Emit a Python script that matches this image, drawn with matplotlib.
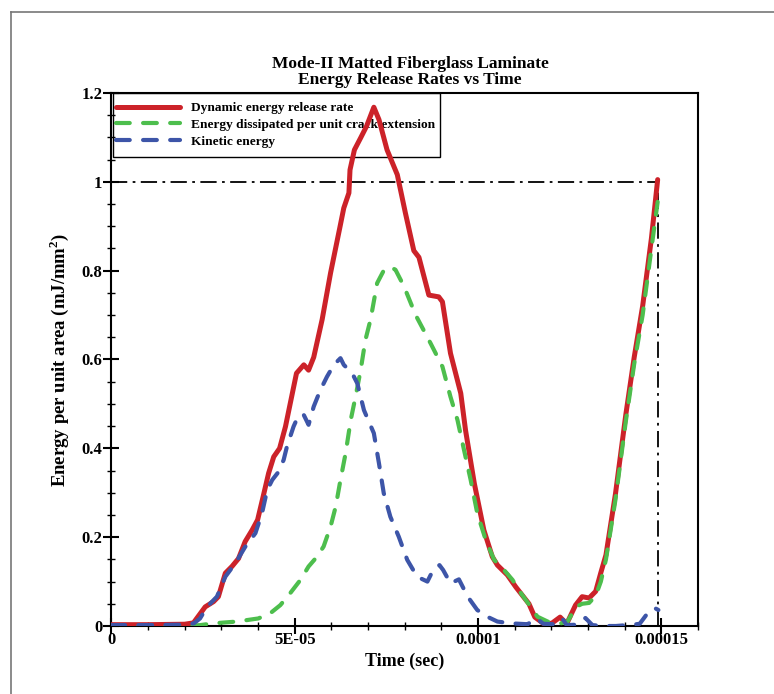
import numpy as np
import matplotlib
matplotlib.use("Agg")
import matplotlib.pyplot as plt
from matplotlib.lines import Line2D
from matplotlib.patches import Rectangle

plt.rcParams['font.family'] = ['Liberation Serif', 'DejaVu Serif']
plt.rcParams['font.weight'] = 'bold'
plt.rcParams['mathtext.fontset'] = 'custom'
plt.rcParams['mathtext.rm'] = 'Liberation Serif:bold'
plt.rcParams['mathtext.bf'] = 'Liberation Serif:bold'

title_lines = ["Mode-II Matted Fiberglass Laminate", "Energy Release Rates vs Time"]
x_label = "Time (sec)"
y_label = r"Energy per unit area (mJ/mm$^{2}$)"
series_names = ["Dynamic energy release rate",
                "Energy dissipated per unit crack extension",
                "Kinetic energy"]
x_ticks = [0, 5e-5, 1e-4, 1.5e-4]
x_tick_labels = ["0", "5E-05", "0.0001", "0.00015"]
y_ticks = [0, 0.2, 0.4, 0.6, 0.8, 1.0, 1.2]
y_tick_labels = ["0", "0.2", "0.4", "0.6", "0.8", "1", "1.2"]
crit_time = 1.49e-4
crit_energy = 1.0

# time in units of 1e-5 s
t_dyn = [0, 1.0, 2.0, 2.24, 2.56, 2.79, 2.92, 3.11, 3.29, 3.47, 3.65, 3.84, 3.99, 4.14,
         4.29, 4.43, 4.59, 4.75, 4.88, 5.05, 5.25, 5.38, 5.52, 5.75, 5.98, 6.24, 6.34,
         6.48, 6.51, 6.63, 6.80, 6.96, 7.16, 7.30, 7.52, 7.80, 8.02, 8.25, 8.39, 8.66,
         8.93, 9.03, 9.25, 9.53, 9.66, 9.90, 10.16, 10.39, 10.53, 10.80, 11.03, 11.39,
         11.55, 11.78, 12.01, 12.24, 12.42, 12.66, 12.84, 13.03, 13.21, 13.35, 13.49,
         13.75, 14.03, 14.26, 14.49, 14.73, 14.90]
e_dyn = [0.003, 0.003, 0.004, 0.007, 0.043, 0.055, 0.066, 0.119, 0.134, 0.152, 0.19, 0.216,
         0.239, 0.291, 0.344, 0.381, 0.40, 0.449, 0.501, 0.569, 0.588, 0.576, 0.605, 0.69,
         0.795, 0.90, 0.941, 0.975, 1.027, 1.072, 1.099, 1.125, 1.168, 1.14, 1.072, 1.016,
         0.93, 0.845, 0.83, 0.745, 0.741, 0.73, 0.614, 0.524, 0.441, 0.321, 0.216, 0.156,
         0.137, 0.115, 0.088, 0.05, 0.02, 0.006, 0.006, 0.02, 0.005, 0.047, 0.066, 0.063,
         0.078, 0.12, 0.16, 0.298, 0.475, 0.605, 0.72, 0.873, 1.005]

t_dis = [0, 1.0, 2.0, 2.42, 2.79, 3.42, 4.01, 4.34, 4.61, 4.88, 5.16, 5.38, 5.61, 5.79,
         5.98, 6.12, 6.25, 6.39, 6.53, 6.66, 6.80, 6.93, 7.07, 7.25, 7.44, 7.62, 7.75,
         7.98, 8.30, 8.71, 9.03, 9.25, 9.44, 9.62, 9.80, 9.98, 10.21, 10.44, 10.71, 10.94,
         11.17, 11.44, 11.62, 11.90, 12.26, 12.44, 12.67, 12.84, 13.03, 13.21, 13.35,
         13.49, 13.75, 14.03, 14.26, 14.49, 14.73, 14.90]
e_dis = [0.0, 0.0, 0.0, 0.002, 0.006, 0.01, 0.017, 0.029, 0.047, 0.074, 0.104, 0.134,
         0.156, 0.179, 0.224, 0.269, 0.329, 0.389, 0.464, 0.516, 0.576, 0.644, 0.69, 0.772,
         0.802, 0.808, 0.802, 0.765, 0.70, 0.636, 0.584, 0.516, 0.464, 0.396, 0.329, 0.254,
         0.194, 0.149, 0.126, 0.104, 0.074, 0.043, 0.021, 0.01, 0.006, 0.01, 0.043, 0.05,
         0.052, 0.068, 0.10, 0.15, 0.285, 0.46, 0.59, 0.70, 0.85, 0.955]

t_kin = [0, 1.0, 2.0, 2.25, 2.42, 2.61, 2.88, 3.11, 3.38, 3.65, 3.93, 4.11, 4.25, 4.39,
         4.56, 4.70, 4.79, 4.97, 5.11, 5.25, 5.38, 5.52, 5.70, 5.88, 6.07, 6.25, 6.34,
         6.57, 6.71, 6.89, 7.16, 7.30, 7.43, 7.61, 7.84, 8.07, 8.34, 8.62, 8.80, 8.95,
         9.05, 9.25, 9.48, 9.72, 9.98, 10.25, 10.53, 10.89, 11.35, 11.60, 11.78, 12.05,
         12.29, 12.42, 12.70, 12.93, 13.12, 13.40, 13.76, 14.23, 14.41, 14.69, 14.83, 14.92]
e_kin = [0.002, 0.002, 0.003, 0.006, 0.017, 0.043, 0.066, 0.111, 0.141, 0.178, 0.209,
         0.254, 0.306, 0.329, 0.347, 0.374, 0.404, 0.449, 0.475, 0.475, 0.453, 0.494,
         0.531, 0.561, 0.588, 0.603, 0.588, 0.569, 0.546, 0.486, 0.434, 0.366, 0.299,
         0.246, 0.201, 0.149, 0.111, 0.10, 0.13, 0.137, 0.126, 0.096, 0.105, 0.066, 0.036,
         0.021, 0.01, 0.006, 0.004, 0.017, 0.005, 0.004, 0.018, 0.002, 0.003, 0.018, 0.002,
         0.0, 0.0, 0.003, 0.005, 0.036, 0.04, 0.036]

T_UNIT = 1e-5

fig = plt.figure(figsize=(7.74, 6.94), dpi=100)
W, H = 774, 694
AX_L, AX_R, AX_T, AX_B = 111.3, 698, 93, 626
ax = fig.add_axes([AX_L / W, 1 - AX_B / H, (AX_R - AX_L) / W, (AX_B - AX_T) / H])
AW, AH = AX_R - AX_L, AX_B - AX_T

red = '#CC2229'
green = '#4DBE4D'
blue = '#3D55A8'

ax.plot([0, crit_time], [crit_energy, crit_energy], color='black', lw=1.3,
        dashes=(9, 3, 1.5, 3), zorder=1)
ax.plot([crit_time, crit_time], [0, crit_energy], color='black', lw=1.3,
        dashes=(9, 3, 1.5, 3), zorder=1)

l1, = ax.plot(np.array(t_dyn) * T_UNIT, e_dyn, color=red, lw=3.6,
              solid_joinstyle='round', solid_capstyle='round', zorder=3)
l2, = ax.plot(np.array(t_dis) * T_UNIT, e_dis, color=green, lw=3.0,
              dashes=(3.3, 3.2), dash_capstyle='round', zorder=4)
l3, = ax.plot(np.array(t_kin) * T_UNIT, e_kin, color=blue, lw=3.0,
              dashes=(3.3, 3.2), dash_capstyle='round', zorder=4)

ax.set_xlim(0, 1.6e-4)
ax.set_ylim(0, 1.2)
ax.set_xticks(x_ticks)
ax.set_xticklabels(x_tick_labels, fontsize=12, fontweight='bold')
ax.set_xticks(np.arange(0, 1.6e-4 + 1e-9, 1e-5), minor=True)
ax.set_yticks(y_ticks)
ax.set_yticklabels(y_tick_labels, fontsize=12, fontweight='bold')
ax.set_yticks(np.arange(0, 1.2001, 0.05), minor=True)
ax.tick_params(axis='both', which='major', direction='inout', length=11, width=1.5,
               top=False, right=False)
ax.tick_params(axis='both', which='minor', direction='inout', length=6, width=1.0,
               top=False, right=False)
ax.tick_params(axis='x', which='major', pad=-1)
ax.tick_params(axis='y', which='major', pad=1)
for s in ax.spines.values():
    s.set_linewidth(1.5)

ax.set_xlabel(x_label, fontsize=13, fontweight='bold', labelpad=3)
ax.set_ylabel(y_label, fontsize=13.5, fontweight='bold')
ax.yaxis.set_label_coords((71 - AX_L) / AW, 0.5)

fig.text(410 / W, 1 - 64 / H, title_lines[0], ha='center', va='center',
         fontsize=12.5, fontweight='bold')
fig.text(410 / W, 1 - 80.5 / H, title_lines[1], ha='center', va='center',
         fontsize=12.5, fontweight='bold')

# legend: transparent, frame drawn separately, curves stay on top
box_l, box_r, box_t, box_b = 113, 440, 93, 157
ax.add_patch(Rectangle(((box_l - AX_L) / AW, 1 - (box_b - AX_T) / AH),
                       (box_r - box_l) / AW, (box_b - box_t) / AH,
                       transform=ax.transAxes, fill=False, edgecolor='black',
                       lw=1.0, zorder=2, clip_on=False))
leg = ax.legend([l1, l2, l3], series_names, loc='upper left',
                bbox_to_anchor=((116 - AX_L) / AW, 1 - 9 / AH),
                borderaxespad=0, borderpad=0, frameon=False,
                prop={'family': 'Liberation Serif', 'weight': 'bold', 'size': 9.6},
                handlelength=4.8, handletextpad=0.85, labelspacing=0.33)
leg.set_zorder(2)

# outer page border
fig.add_artist(Line2D([11 / W, 11 / W], [0, 1 - 12 / H], color='#777777', lw=1.2))
fig.add_artist(Line2D([11 / W, 1], [1 - 12 / H, 1 - 12 / H], color='#777777', lw=1.2))

fig.savefig('out.png', dpi=100)
